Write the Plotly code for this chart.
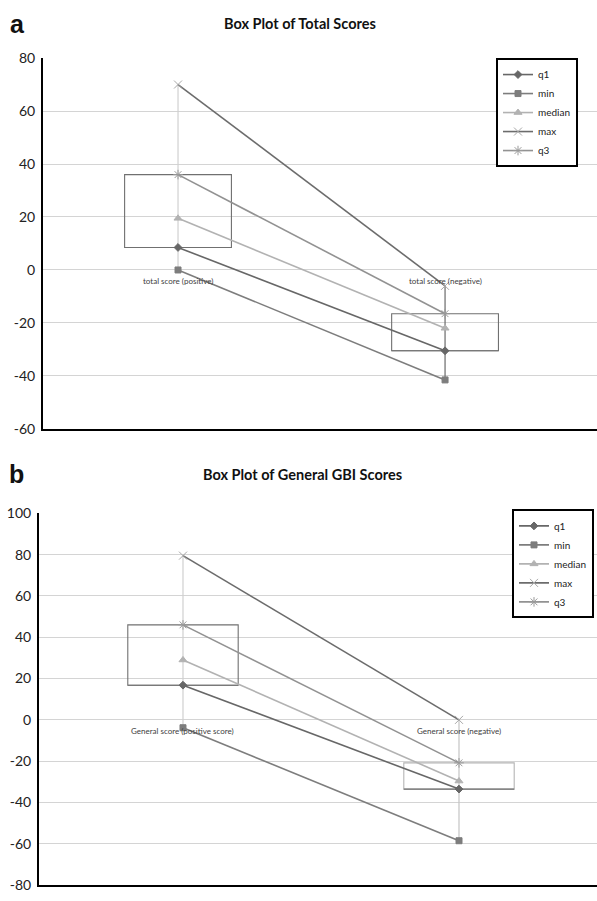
import plotly.graph_objects as go

# ---- data ----
stats = ["q1", "min", "median", "max", "q3"]

total_categories = ["total score (positive)", "total score (negative)"]
total_q1 = [8.5, -30.5]
total_min = [0, -41.5]
total_median = [19.5, -22]
total_max = [70, -6]
total_q3 = [36, -16.5]

gbi_categories = ["General score (positive score)", "General score (negative)"]
gbi_q1 = [16.8, -33.5]
gbi_min = [-3.8, -58.5]
gbi_median = [29, -29.6]
gbi_max = [79.5, 0]
gbi_q3 = [46, -20.8]

y_ticks_total = [-60, -40, -20, 0, 20, 40, 60, 80]
y_ticks_gbi = [-80, -60, -40, -20, 0, 20, 40, 60, 80, 100]

# ---- styles ----
W, H = 597, 901
FONT = "Lato"
styles = {
    "q1": dict(color="#676767", symbol="diamond", size=6, lw=1.6),
    "min": dict(color="#7d7d7d", symbol="square", size=6, lw=1.6),
    "median": dict(color="#b2b2b2", symbol="triangle-up", size=7, lw=1.6),
    "max": dict(color="#6c6c6c", symbol="x-thin-open", size=8, lw=1.6, mcolor="#a8a8a8"),
    "q3": dict(color="#929292", symbol="asterisk-open", size=8, lw=1.6, mcolor="#9a9a9a"),
}

fig = go.Figure()

panels = [
    dict(xa="x", ya="y", legend="legend", cats=total_categories,
         data=dict(q1=total_q1, min=total_min, median=total_median, max=total_max, q3=total_q3),
         whisker=["#d0d0d0", "#6a6a6a"], box=["#707070", "#707070"], boxbottom=["#707070", "#707070"]),
    dict(xa="x2", ya="y2", legend="legend2", cats=gbi_categories,
         data=dict(q1=gbi_q1, min=gbi_min, median=gbi_median, max=gbi_max, q3=gbi_q3),
         whisker=["#d0d0d0", "#c4c4c4"], box=["#707070", "#b4b4b4"], boxbottom=["#707070", "#707070"]),
]

shapes = []
annotations = []
for p in panels:
    d = p["data"]
    idx = list(range(len(p["cats"])))
    for i in idx:
        shapes.append(dict(type="line", xref=p["xa"], yref=p["ya"], x0=i, x1=i,
                           y0=d["min"][i], y1=d["max"][i],
                           line=dict(color=p["whisker"][i], width=1.2), layer="between"))
        shapes.append(dict(type="rect", xref=p["xa"], yref=p["ya"], x0=i - 0.2, x1=i + 0.2,
                           y0=d["q1"][i], y1=d["q3"][i],
                           line=dict(color=p["box"][i], width=1.1), layer="between"))
        shapes.append(dict(type="line", xref=p["xa"], yref=p["ya"], x0=i - 0.2, x1=i + 0.2,
                           y0=d["q1"][i], y1=d["q1"][i],
                           line=dict(color=p["boxbottom"][i], width=1.1), layer="between"))
        annotations.append(dict(xref=p["xa"], yref=p["ya"], x=i, y=0, yanchor="top", yshift=-4,
                                text=p["cats"][i], showarrow=False,
                                font=dict(family=FONT, size=8, color="#404040")))
    for s in stats:
        st = styles[s]
        fig.add_trace(go.Scatter(
            x=idx, y=d[s], name=s, mode="lines+markers",
            xaxis=p["xa"], yaxis=p["ya"], legend=p["legend"],
            line=dict(color=st["color"], width=st["lw"]),
            marker=dict(symbol=st["symbol"], size=st["size"],
                        color=st.get("mcolor", st["color"]),
                        line=dict(color=st.get("mcolor", st["color"]), width=1)),
        ))

annotations += [
    dict(xref="paper", yref="paper", x=300 / W, y=1 - 15 / H, yanchor="middle",
         text="<b>Box Plot of Total Scores</b>",
         showarrow=False, font=dict(family=FONT, size=14.5, color="#111")),
    dict(xref="paper", yref="paper", x=302 / W, y=1 - 474 / H, yanchor="middle",
         text="<b>Box Plot of General GBI Scores</b>",
         showarrow=False, font=dict(family=FONT, size=14.5, color="#111")),
    dict(xref="paper", yref="paper", x=8 / W, y=1 - 15 / H, xanchor="left", yanchor="middle",
         text="<b>a</b>", showarrow=False, font=dict(family="Liberation Sans", size=25, color="#111")),
    dict(xref="paper", yref="paper", x=7 / W, y=1 - 474 / H, xanchor="left", yanchor="middle",
         text="<b>b</b>", showarrow=False, font=dict(family="Liberation Sans", size=25, color="#111")),
]

xcommon = dict(showgrid=False, zeroline=False, showticklabels=False, ticks="",
               showline=True, linecolor="black", linewidth=2, fixedrange=True)
ycommon = dict(showgrid=True, gridcolor="#d4d4d4", gridwidth=1, zeroline=False,
               showline=True, linecolor="black", linewidth=2, ticks="",
               tickfont=dict(family=FONT, size=14, color="#222"), ticklabelstandoff=3)

legend_common = dict(bgcolor="white", bordercolor="black", borderwidth=2,
                     font=dict(family=FONT, size=10, color="#222"),
                     xanchor="left", yanchor="top", tracegroupgap=0, itemwidth=30)

fig.update_layout(
    width=W, height=H, paper_bgcolor="white", plot_bgcolor="white",
    margin=dict(l=0, r=0, t=0, b=0),
    showlegend=True,
    xaxis=dict(domain=[43 / W, 1], range=[-0.5056, 1.569], anchor="y", **xcommon),
    yaxis=dict(domain=[1 - 428 / H, 1 - 50 / H], range=[-60, 80], anchor="x",
               tickvals=y_ticks_total, ticktext=[str(v) for v in y_ticks_total], **ycommon),
    xaxis2=dict(domain=[39 / W, 1], range=[-0.5217, 1.5], anchor="y2", **xcommon),
    yaxis2=dict(domain=[1 - 893 / H, 1 - 514 / H], range=[-80, 100], anchor="x2",
                tickvals=y_ticks_gbi, ticktext=[str(v) for v in y_ticks_gbi], **ycommon),
    legend=dict(x=496 / W, y=1 - 50 / H, **legend_common),
    legend2=dict(x=512 / W, y=1 - 510 / H, **legend_common),
    shapes=shapes, annotations=annotations,
)

post = ("document.documentElement.style.margin='0';document.body.style.margin='0';"
        "document.body.style.padding='0';document.body.style.overflow='hidden';"
        "var g=document.getElementById('{plot_id}');g.style.position='fixed';"
        "g.style.left='0px';g.style.top='0px';")
fig.write_html("out.html", post_script=post, config={"displayModeBar": False})
